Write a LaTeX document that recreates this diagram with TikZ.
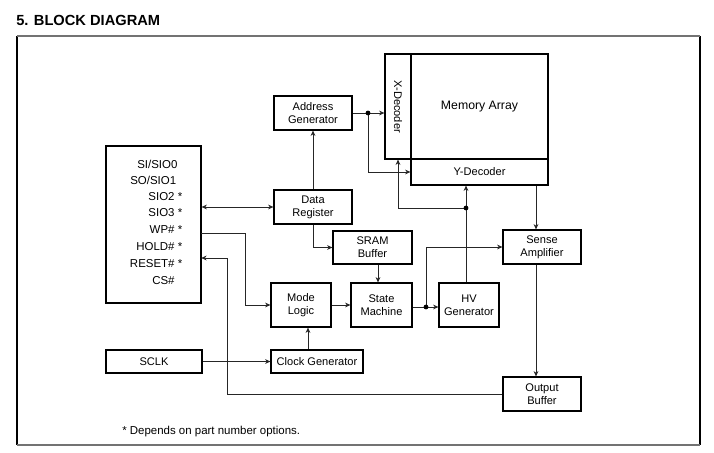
\documentclass[tikz,border=0pt]{standalone}
\usepackage{fontspec}
\setmainfont{Liberation Sans}
\usetikzlibrary{arrows.meta,calc}
\begin{document}
\begin{tikzpicture}[x=0.75pt,y=-0.75pt,
  blk/.style={draw=black,line width=0.9pt,fill=white,inner sep=0pt,align=center,
     font=\fontsize{8.3pt}{9.8pt}\selectfont},
  conn/.style={draw=black!85,line width=0.6pt},
  arr/.style={conn,-{Stealth[length=4pt,width=3.6pt]}},
  arrb/.style={conn,{Stealth[length=4pt,width=3.6pt]}-{Stealth[length=4pt,width=3.6pt]}},
  pin/.style={inner sep=0pt,font=\fontsize{8.6pt}{10pt}\selectfont},
  dotc/.style={fill=black,circle,inner sep=0pt,minimum size=3.6pt}]
\useasboundingbox (0,0) rectangle (714,453);
% title
\node[anchor=west,inner sep=0pt,font=\fontsize{11pt}{13pt}\selectfont\bfseries] (title) at (16,20) {5. BLOCK DIAGRAM};
% frame
\draw[black,line width=0.9pt] (17,36) -- (17,445);
\draw[black,line width=0.9pt] (700,36) -- (700,445);
\draw[black!55,line width=1.3pt] (17,36) -- (700,36);
\draw[black!55,line width=1.3pt] (17,445) -- (700,445);
% boxes
\node[blk,minimum width=71.25pt,minimum height=117.75pt] (pins) at (153.5,224.5) {};
\node[blk,minimum width=58.5pt,minimum height=25.5pt] (addr) at (313,113) {Address\\Generator};
\node[blk,minimum width=58.5pt,minimum height=25.5pt] (dreg) at (313,207) {Data\\Register};
\node[blk,minimum width=19.5pt,minimum height=78.75pt] (xdec) at (398,106.5) {};
\node[rotate=-90,inner sep=0pt,font=\fontsize{8.3pt}{9.8pt}\selectfont] (xdect) at (xdec.center) {X-Decoder};
\node[blk,minimum width=102.75pt,minimum height=78.75pt,font=\fontsize{9.2pt}{11pt}\selectfont] (mem) at (479.5,106.5) {Memory Array};
\node[blk,minimum width=102.75pt,minimum height=19.5pt] (ydec) at (479.5,172) {Y-Decoder};
\node[blk,minimum width=59.25pt,minimum height=24.75pt] (sram) at (372.5,247.5) {SRAM\\Buffer};
\node[blk,minimum width=45pt,minimum height=33pt] (mode) at (301,305) {Mode\\Logic};
\node[blk,minimum width=45.75pt,minimum height=33pt] (state) at (381.5,305) {State\\Machine};
\node[blk,minimum width=45pt,minimum height=33pt] (hv) at (469,305) {HV\\Generator};
\node[blk,minimum width=58.5pt,minimum height=25.5pt] (sense) at (542,247) {Sense\\Amplifier};
\node[blk,minimum width=58.5pt,minimum height=25.5pt] (obuf) at (542,394) {Output\\Buffer};
\node[blk,minimum width=72pt,minimum height=17.25pt] (sclk) at (154,361.5) {SCLK};
\node[blk,minimum width=69pt,minimum height=17.25pt] (clk) at (317,361.5) {Clock Generator};
% pin labels
\node[pin,anchor=west] (p1) at (137,164.3) {SI/SIO0};
\node[pin,anchor=west] (p2) at (130,180.3) {SO/SIO1};
\node[pin,anchor=east] (p3) at (182.5,196.5) {SIO2 *};
\node[pin,anchor=east] (p4) at (182.5,212.7) {SIO3 *};
\node[pin,anchor=east] (p5) at (182.5,229.3) {WP\# *};
\node[pin,anchor=east] (p6) at (182.5,246.5) {HOLD\# *};
\node[pin,anchor=east] (p7) at (182.5,263.5) {RESET\# *};
\node[pin,anchor=west] (p8) at (152,281) {CS\#};
% footnote
\node[pin,anchor=west] (foot) at (122,432) {* Depends on part number options.};
% junctions and columns
\coordinate (j1) at (368,113);
\coordinate (j2) at (426,307);
\coordinate (j3) at (466,208);
\coordinate (wp) at (201.25,233);
\coordinate (rst) at (201.25,258);
\coordinate (c378) at (378,0);
\coordinate (c466) at (466,0);
\coordinate (c536) at (536,0);
\coordinate (c308) at (308,0);
% connectors
\draw[arrb] (pins.east |- dreg.west) -- (dreg.west);
\draw[arr] (wp) -- (245,233) |- (mode.west);
\draw[arr] (obuf.west) -| (227,258) -- (rst);
\draw[arr] (dreg.north) -- (addr.south);
\draw[conn] (addr.east) -- (j1);
\draw[arr] (j1) -- (xdec.west |- j1);
\draw[arr] (j1) |- (ydec.west);
\draw[arr] (dreg.south) |- (sram.west);
\draw[arr] (sram.south -| c378) -- (state.north -| c378);
\draw[arr] (mode.east) -- (state.west);
\draw[conn] (state.east |- j2) -- (j2);
\draw[arr] (j2) -- (hv.west |- j2);
\draw[arr] (j2) |- (sense.west);
\draw[arr] (hv.north -| c466) -- (ydec.south -| c466);
\draw[arr] (j3) -| (xdec.south);
\draw[arr] (ydec.south -| c536) -- (sense.north -| c536);
\draw[arr] (sense.south -| c536) -- (obuf.north -| c536);
\draw[arr] (sclk.east) -- (clk.west);
\draw[arr] (clk.north -| c308) -- (mode.south -| c308);
% dots
\node[dotc] (d1) at (j1) {};
\node[dotc] (d2) at (j2) {};
\node[dotc] (d3) at (j3) {};
\end{tikzpicture}
\end{document}
